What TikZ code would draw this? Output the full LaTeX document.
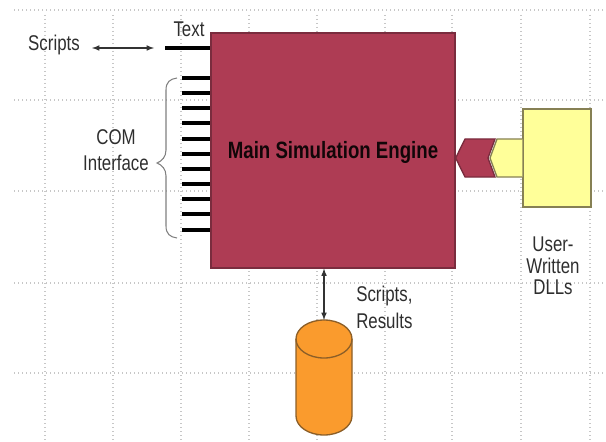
\documentclass[tikz,border=0pt]{standalone}
\usepackage{fontspec}
\setmainfont[FakeStretch=0.79]{Liberation Sans}
\definecolor{engineRed}{RGB}{174,60,84}
\definecolor{engineEdge}{RGB}{122,44,62}
\definecolor{dllYellow}{RGB}{255,255,153}
\definecolor{dllEdge}{RGB}{134,128,84}
\definecolor{storeOrange}{RGB}{250,155,45}
\definecolor{storeEdge}{RGB}{140,95,40}
\tikzset{
	gridline/.style={draw=black!22, line width=1pt, dash pattern=on 1pt off 2pt},
	stub/.style={line width=3.6pt, black},
	label/.style={inner sep=0.75pt, align=center, font=\fontsize{16}{16}\selectfont, text=black!82},
	link/.style={<->, >=latex, line width=0.9pt, black!80},
}
\begin{document}
\begin{tikzpicture}[x=0.75pt,y=0.75pt,yscale=-1,xscale=1]
	\useasboundingbox (0,0) rectangle (606,442);
	
	% Dotted grid
	\draw [gridline] (14,10) -- (606,10) ;
	\draw [gridline] (14,100) -- (606,100) ;
	\draw [gridline] (14,191) -- (606,191) ;
	\draw [gridline] (14,283) -- (606,283) ;
	\draw [gridline] (14,373) -- (606,373) ;
	\draw [gridline] (45,15) -- (45,442) ;
	\draw [gridline] (113,15) -- (113,442) ;
	\draw [gridline] (181,15) -- (181,442) ;
	\draw [gridline] (249,15) -- (249,442) ;
	\draw [gridline] (317,15) -- (317,442) ;
	\draw [gridline] (385,15) -- (385,442) ;
	\draw [gridline] (452,15) -- (452,442) ;
	\draw [gridline] (521,15) -- (521,442) ;
	\draw [gridline] (590,15) -- (590,442) ;
	
	% Main block
	\node (engine) [draw=engineEdge, line width=1pt, fill=engineRed, minimum width=183pt, minimum height=176pt, inner sep=0pt] at (333,150.5) {};
	\node (enginetext) [inner sep=0.75pt, font=\fontsize{17.7}{18}\selectfont\bfseries, text=black!90!engineRed] at (333,152.5) {Main Simulation Engine};
	
	% Text stub and scripts link
	\coordinate (textstub) at (165,48);
	\draw [stub] (textstub) -- (textstub -| engine.west) ;
	\node (textlabel) [label] at (189,29) {Text};
	\node (scripts) [label] at (54,45) {Scripts};
	\coordinate (linkleft) at (92,48);
	\coordinate (linkright) at (154,48);
	\draw [link] (linkleft) -- (linkright) ;
	
	% COM stubs
	\coordinate (com1) at (182,78);
	\coordinate (com2) at (182,93);
	\coordinate (com3) at (182,108);
	\coordinate (com4) at (182,123);
	\coordinate (com5) at (182,139);
	\coordinate (com6) at (182,154);
	\coordinate (com7) at (182,169);
	\coordinate (com8) at (182,184);
	\coordinate (com9) at (182,199);
	\coordinate (com10) at (182,214);
	\coordinate (com11) at (182,230);
	\draw [stub] (com1) -- (com1 -| engine.west) ;
	\draw [stub] (com2) -- (com2 -| engine.west) ;
	\draw [stub] (com3) -- (com3 -| engine.west) ;
	\draw [stub] (com4) -- (com4 -| engine.west) ;
	\draw [stub] (com5) -- (com5 -| engine.west) ;
	\draw [stub] (com6) -- (com6 -| engine.west) ;
	\draw [stub] (com7) -- (com7 -| engine.west) ;
	\draw [stub] (com8) -- (com8 -| engine.west) ;
	\draw [stub] (com9) -- (com9 -| engine.west) ;
	\draw [stub] (com10) -- (com10 -| engine.west) ;
	\draw [stub] (com11) -- (com11 -| engine.west) ;
	
	% Brace
	\draw [black!50, line width=0.8pt] (177,78) .. controls (170,79) and (166,82) .. (166,90) -- (166,150) .. controls (166,157) and (162,161) .. (157,163) .. controls (162,165) and (166,169) .. (166,176) -- (166,226) .. controls (166,234) and (170,237) .. (177,238) ;
	\node (com) [label] at (116,150) {COM\\[4pt]Interface};
	
	% Plug and DLL block
	\node (dll) [draw=dllEdge, line width=1pt, fill=dllYellow, minimum width=51pt, minimum height=73.5pt, inner sep=0pt] at (557,158) {};
	\draw [draw=dllEdge, line width=1pt, fill=dllYellow] (dll.west |- 0,139) -- (497,139) -- (490,158) -- (497,177) -- (dll.west |- 0,177) ;
	\draw [draw=engineEdge, line width=1pt, fill=engineRed] (engine.east |- 0,158) -- (465,139) -- (495,139) -- (488,158) -- (495,177) -- (465,177) -- cycle ;
	\node (dlltext) [label] at (553,266) {User-\\Written\\DLLs};
	
	% Store
	\coordinate (storetop) at (324,320);
	\draw [draw=storeEdge, line width=1pt, fill=storeOrange] (296,339) -- (296,416) .. controls (296,426.5) and (308.5,435) .. (324,435) .. controls (339.5,435) and (352,426.5) .. (352,416) -- (352,339) .. controls (352,328.5) and (339.5,320) .. (storetop) .. controls (308.5,320) and (296,328.5) .. (296,339) -- cycle ;
	\draw [draw=storeEdge, line width=1pt] (296,339) .. controls (296,349.5) and (308.5,358) .. (324,358) .. controls (339.5,358) and (352,349.5) .. (352,339) ;
	\draw [link] (storetop |- engine.south) -- (storetop) ;
	\node (results) [label, align=left, anchor=west] at (355,307.5) {Scripts,\\[4pt]Results};
\end{tikzpicture}
\end{document}
